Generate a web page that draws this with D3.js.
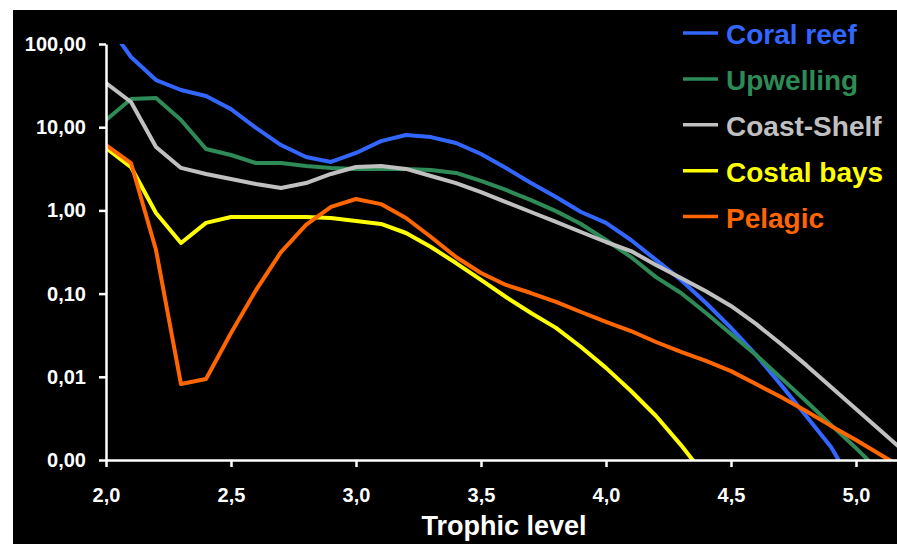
<!DOCTYPE html>
<html>
<head>
<meta charset="utf-8">
<script src="https://cdn.jsdelivr.net/npm/d3@7"></script>
<style>
  html, body { margin: 0; padding: 0; background: #ffffff; }
  svg { display: block; }
  text { font-family: "Liberation Sans", Arial, Helvetica, sans-serif; font-weight: bold; }
</style>
</head>
<body>
<svg id="chart" width="897" height="544"></svg>
<script>
// ---------- data ----------
const trophic = [2.0, 2.1, 2.2, 2.3, 2.4, 2.5, 2.6, 2.7, 2.8, 2.9, 3.0, 3.1, 3.2, 3.3, 3.4, 3.5, 3.6, 3.7, 3.8, 3.9, 4.0, 4.1, 4.2, 4.3, 4.4, 4.5, 4.6, 4.7, 4.8, 4.9, 5.0, 5.1, 5.2];

const coralReef = [184, 69.8, 36.9, 28.0, 23.7, 16.5, 9.8, 6.1, 4.38, 3.82, 4.9, 6.8, 8.06, 7.6, 6.46, 4.76, 3.23, 2.13, 1.45, 0.957, 0.707, 0.441, 0.254, 0.146, 0.0771, 0.0387, 0.0183, 0.0080, 0.0034, 0.00143, 0.00044, null, null];
const upwelling = [12.2, 21.8, 22.4, 12.2, 5.47, 4.63, 3.71, 3.71, 3.42, 3.23, 3.15, 3.15, 3.15, 3.06, 2.82, 2.26, 1.76, 1.33, 0.98, 0.687, 0.441, 0.275, 0.158, 0.1016, 0.0585, 0.0327, 0.0183, 0.0097, 0.00512, 0.00264, 0.00139, 0.0007, null];
const coastShelf = [34.0, 20.1, 5.78, 3.24, 2.74, 2.38, 2.08, 1.86, 2.13, 2.74, 3.32, 3.42, 3.15, 2.59, 2.13, 1.66, 1.26, 0.957, 0.726, 0.55, 0.417, 0.325, 0.221, 0.154, 0.107, 0.071, 0.0432, 0.0248, 0.0139, 0.00753, 0.0041, 0.00223, 0.00121];
const costalBays = [5.62, 3.32, 0.93, 0.406, 0.707, 0.834, 0.834, 0.834, 0.834, 0.811, 0.747, 0.687, 0.535, 0.363, 0.233, 0.146, 0.091, 0.0585, 0.0387, 0.0228, 0.0128, 0.00675, 0.00338, 0.00151, 0.000625, null, null, null, null, null, null, null, null];
const pelagic = [6.11, 3.71, 0.334, 0.00818, 0.00942, 0.0336, 0.110, 0.316, 0.668, 1.10, 1.37, 1.19, 0.811, 0.479, 0.275, 0.177, 0.127, 0.1016, 0.0793, 0.0601, 0.0456, 0.0355, 0.0262, 0.0199, 0.0155, 0.0117, 0.00818, 0.00571, 0.00388, 0.00257, 0.00174, 0.00115, 0.00076];

const seriesNames = ["Coral reef", "Upwelling", "Coast-Shelf", "Costal bays", "Pelagic"];
const seriesValues = [coralReef, upwelling, coastShelf, costalBays, pelagic];
const seriesColors = ["#3366ff", "#2e8b57", "#c0c0c0", "#ffff00", "#ff6600"];

const xTickValues = [2.0, 2.5, 3.0, 3.5, 4.0, 4.5, 5.0];
const xTickLabels = ["2,0", "2,5", "3,0", "3,5", "4,0", "4,5", "5,0"];
const yTickValues = [100, 10, 1, 0.1, 0.01, 0.001];
const yTickLabels = ["100,00", "10,00", "1,00", "0,10", "0,01", "0,00"];
const xTitle = "Trophic level";

// ---------- layout ----------
const svg = d3.select("#chart");
const W = 897, H = 544;
const plot = { left: 106, right: 906, top: 44, bottom: 460 };

svg.append("rect").attr("x", 0).attr("y", 0).attr("width", W).attr("height", H).attr("fill", "#ffffff");
svg.append("rect").attr("x", 13).attr("y", 10).attr("width", W - 13).attr("height", H - 10).attr("fill", "#000000");

const x = d3.scaleLinear().domain([2.0, 5.2]).range([plot.left, plot.right]);
const y = d3.scaleLog().domain([0.001, 100]).range([plot.bottom, plot.top]);

svg.append("clipPath").attr("id", "plotclip")
  .append("rect")
  .attr("x", plot.left).attr("y", plot.top)
  .attr("width", plot.right - plot.left).attr("height", plot.bottom - plot.top);

// series lines
const line = d3.line()
  .defined(d => d.v !== null)
  .x(d => x(d.t))
  .y(d => y(d.v));

const gLines = svg.append("g").attr("clip-path", "url(#plotclip)");
seriesValues.forEach((vals, i) => {
  const pts = trophic.map((t, k) => ({ t: t, v: vals[k] }));
  gLines.append("path")
    .datum(pts)
    .attr("d", line)
    .attr("fill", "none")
    .attr("stroke", seriesColors[i])
    .attr("stroke-width", 4)
    .attr("stroke-linejoin", "round");
});

// axes
const xAxis = d3.axisBottom(x)
  .tickValues(xTickValues)
  .tickFormat((d, i) => xTickLabels[i])
  .tickSize(7).tickSizeOuter(0).tickPadding(21);
const gx = svg.append("g").attr("transform", `translate(0,${plot.bottom})`).call(xAxis);

const yAxis = d3.axisLeft(y)
  .tickValues(yTickValues)
  .tickFormat((d, i) => yTickLabels[i])
  .tickSize(7).tickSizeOuter(0).tickPadding(13);
const gy = svg.append("g").attr("transform", `translate(${plot.left},0)`).call(yAxis);

[gx, gy].forEach(g => {
  g.select(".domain").attr("stroke", "#ffffff").attr("stroke-width", 2.5);
  g.selectAll(".tick line").attr("stroke", "#ffffff").attr("stroke-width", 2.5);
  g.selectAll(".tick text")
    .attr("fill", "#ffffff")
    .style("font-size", "20px")
    .style("font-family", "'Liberation Sans', Arial, sans-serif")
    .style("font-weight", "bold");
});

// x title
svg.append("text")
  .attr("x", 504).attr("y", 535)
  .attr("text-anchor", "middle")
  .attr("fill", "#ffffff")
  .style("font-size", "27px")
  .text(xTitle);

// legend
const legend = svg.append("g");
seriesNames.forEach((name, i) => {
  const cy = 33 + i * 45.9;
  legend.append("line")
    .attr("x1", 683).attr("x2", 718)
    .attr("y1", cy).attr("y2", cy)
    .attr("stroke", seriesColors[i]).attr("stroke-width", 3.5);
  legend.append("text")
    .attr("x", 726).attr("y", cy + 11)
    .attr("fill", seriesColors[i])
    .style("font-size", "28px")
    .text(name);
});
</script>
</body>
</html>
